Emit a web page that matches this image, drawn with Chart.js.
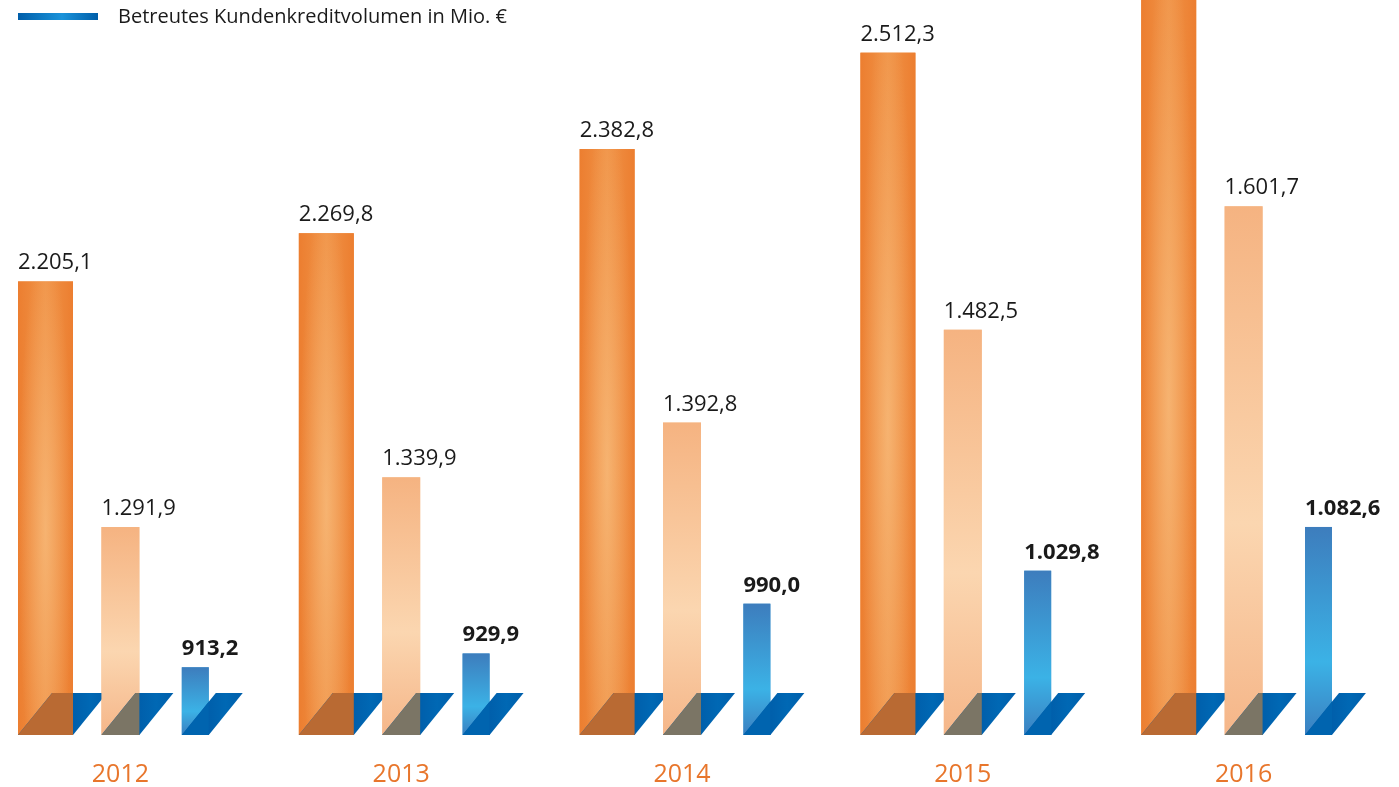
<!DOCTYPE html>
<html>
<head>
<meta charset="utf-8">
<script src="https://cdn.jsdelivr.net/npm/chart.js@4/dist/chart.umd.min.js"></script>
<style>
  html, body { margin: 0; padding: 0; background: #fff; overflow: hidden; }
  /* Zeichenfläche leicht nach links verschoben, damit die Jahresgruppen wie im Original sitzen */
  #wrap { width: 1413px; height: 815px; position: absolute; left: -20px; top: 0; }
</style>
</head>
<body>
<div id="wrap"><canvas id="volumen"></canvas></div>
<script>
// Werte in Mio. €
var years = ['2012', '2013', '2014', '2015', '2016'];
var kundenvolumen = [2205.1, 2269.8, 2382.8, 2512.3, 2650.0];   // 2016 oben abgeschnitten, geschätzt
var einlagenvolumen = [1291.9, 1339.9, 1392.8, 1482.5, 1601.7];
var kreditvolumen = [913.2, 929.9, 990.0, 1029.8, 1082.6];

var legendText = 'Betreutes Kundenkreditvolumen in Mio. €';
var shiftX = 20;
var minGesamt = 1596, minEinlagen = 1091, minKredit = 831.5;

function fmt(v) {
    var parts = v.toFixed(1).split('.');
    return parts[0].replace(/\B(?=(\d{3})+(?!\d))/g, '.') + ',' + parts[1];
}

// Farbverläufe + Sockel + Beschriftung
var decoPlugin = {
    id: 'deco',
    afterDatasetsDraw: function (chart) {
        var c = chart.ctx;
        var area = chart.chartArea;
        c.save();
        c.beginPath();
        c.rect(area.left, area.top, area.right - area.left + 60, area.bottom - area.top);
        c.clip();

        chart.data.datasets.forEach(function (ds, di) {
            var meta = chart.getDatasetMeta(di);
            meta.data.forEach(function (bar) {
                var w = bar.width;
                var l = bar.x - w / 2, r = bar.x + w / 2;
                var top = Math.max(bar.y, area.top), base = Math.min(bar.base, area.bottom);
                var h = base - top;
                var g;

                if (di === 0) {
                    g = c.createLinearGradient(l, 0, r, 0);
                    g.addColorStop(0, '#ec7e30');
                    g.addColorStop(0.5, '#f09347');
                    g.addColorStop(1, '#ec7e30');
                    c.fillStyle = g;
                    c.fillRect(l, top, w, h);
                    // heller Glanz in der Mitte
                    c.save();
                    c.beginPath();
                    c.rect(l, top, w, h);
                    c.clip();
                    c.translate(bar.x, top + h * 0.55);
                    c.scale(1, (h * 0.65) / (w / 2));
                    var rg = c.createRadialGradient(0, 0, 0, 0, 0, w / 2);
                    rg.addColorStop(0, 'rgba(250,200,140,0.6)');
                    rg.addColorStop(1, 'rgba(250,200,140,0)');
                    c.fillStyle = rg;
                    c.fillRect(-w / 2, -w, w, w * 2);
                    c.restore();
                } else if (di === 1) {
                    g = c.createLinearGradient(0, top, 0, base);
                    g.addColorStop(0, '#f5b381');
                    g.addColorStop(0.6, '#fbd6b0');
                    g.addColorStop(1, '#f5b689');
                    c.fillStyle = g;
                    c.fillRect(l, top, w, h);
                } else {
                    g = c.createLinearGradient(0, top, 0, base);
                    g.addColorStop(0, '#3d7dbd');
                    g.addColorStop(0.65, '#3bb2e6');
                    g.addColorStop(1, '#3b7fc0');
                    c.fillStyle = g;
                    c.fillRect(l, top, w, h);
                }

                // blauer Sockel (Parallelogramm)
                var sh = 34, ph = 42;
                c.beginPath();
                c.moveTo(l, base);
                c.lineTo(l + sh, base - ph);
                c.lineTo(r + sh, base - ph);
                c.lineTo(r, base);
                c.closePath();
                var bg = c.createLinearGradient(r, 0, r + sh, 0);
                bg.addColorStop(0, '#005fab');
                bg.addColorStop(0.5, '#0068b4');
                bg.addColorStop(1, '#005fab');
                c.fillStyle = bg;
                c.fill();
                // Teil über dem Balken abgedunkelt
                c.save();
                c.beginPath();
                c.rect(l, base - ph, w, ph);
                c.clip();
                c.beginPath();
                c.moveTo(l, base);
                c.lineTo(l + sh, base - ph);
                c.lineTo(r + sh, base - ph);
                c.lineTo(r, base);
                c.closePath();
                c.fillStyle = di === 0 ? '#b96a33' : (di === 1 ? '#7b7565' : '#0064af');
                c.fill();
                c.restore();
            });
        });
        c.restore();

        // Werte über den Balken
        c.save();
        c.fillStyle = '#1a1a1a';
        c.textAlign = 'left';
        c.textBaseline = 'alphabetic';
        chart.data.datasets.forEach(function (ds, di) {
            var meta = chart.getDatasetMeta(di);
            c.font = (di === 2 ? 'bold ' : '') + '22px "Open Sans"';
            meta.data.forEach(function (bar, i) {
                if (bar.y <= area.top + 1) return;
                c.fillText(fmt(ds.data[i]), bar.x - bar.width / 2, bar.y - 12);
            });
        });
        c.restore();
    },
    afterDraw: function (chart) {
        var c = chart.ctx;
        c.save();
        var x0 = 18 + shiftX;
        var g = c.createLinearGradient(x0, 0, x0 + 80, 0);
        g.addColorStop(0, '#005ea9');
        g.addColorStop(0.55, '#1a93da');
        g.addColorStop(1, '#005ea9');
        c.fillStyle = g;
        c.fillRect(x0, 13, 80, 7);
        c.fillStyle = '#1a1a1a';
        c.font = '20px "Open Sans"';
        c.textBaseline = 'middle';
        c.fillText(legendText, x0 + 100, 17);
        c.restore();
    }
};

var ctx = document.getElementById('volumen').getContext('2d');

var graphic = new Chart(ctx, {
    type: 'bar',
    data: {
        labels: years,
        datasets: [{
            label: 'Betreutes Kundenvolumen in Mio. €',
            data: kundenvolumen,
            base: minGesamt,
            yAxisID: 'yGesamt',
            backgroundColor: '#ee8a3c',
            barPercentage: 0.734
        }, {
            label: 'Betreutes Kundeneinlagenvolumen in Mio. €',
            data: einlagenvolumen,
            base: minEinlagen,
            yAxisID: 'yEinlagen',
            backgroundColor: '#f8c79c',
            barPercentage: 0.507
        }, {
            label: legendText,
            data: kreditvolumen,
            base: minKredit,
            yAxisID: 'yKredit',
            backgroundColor: '#3b98d4',
            barPercentage: 0.36
        }]
    },
    options: {
        responsive: true,
        maintainAspectRatio: false,
        animation: false,
        categoryPercentage: 0.8,
        layout: { padding: { left: 0, right: 9, top: 0, bottom: 0 } },
        plugins: {
            legend: { display: false },
            tooltip: { enabled: false }
        },
        scales: {
            x: {
                grid: { display: false, drawTicks: false },
                border: { display: false },
                ticks: {
                    color: '#e8762c',
                    padding: 25,
                    font: { family: 'Open Sans', size: 25 }
                }
            },
            yGesamt: { display: false, beginAtZero: false, min: minGesamt, max: 2583 },
            yEinlagen: { display: false, beginAtZero: false, min: minEinlagen, max: 1801 },
            yKredit: { display: false, beginAtZero: false, min: minKredit, max: 1718.6 }
        }
    },
    plugins: [decoPlugin]
});
</script>
</body>
</html>
